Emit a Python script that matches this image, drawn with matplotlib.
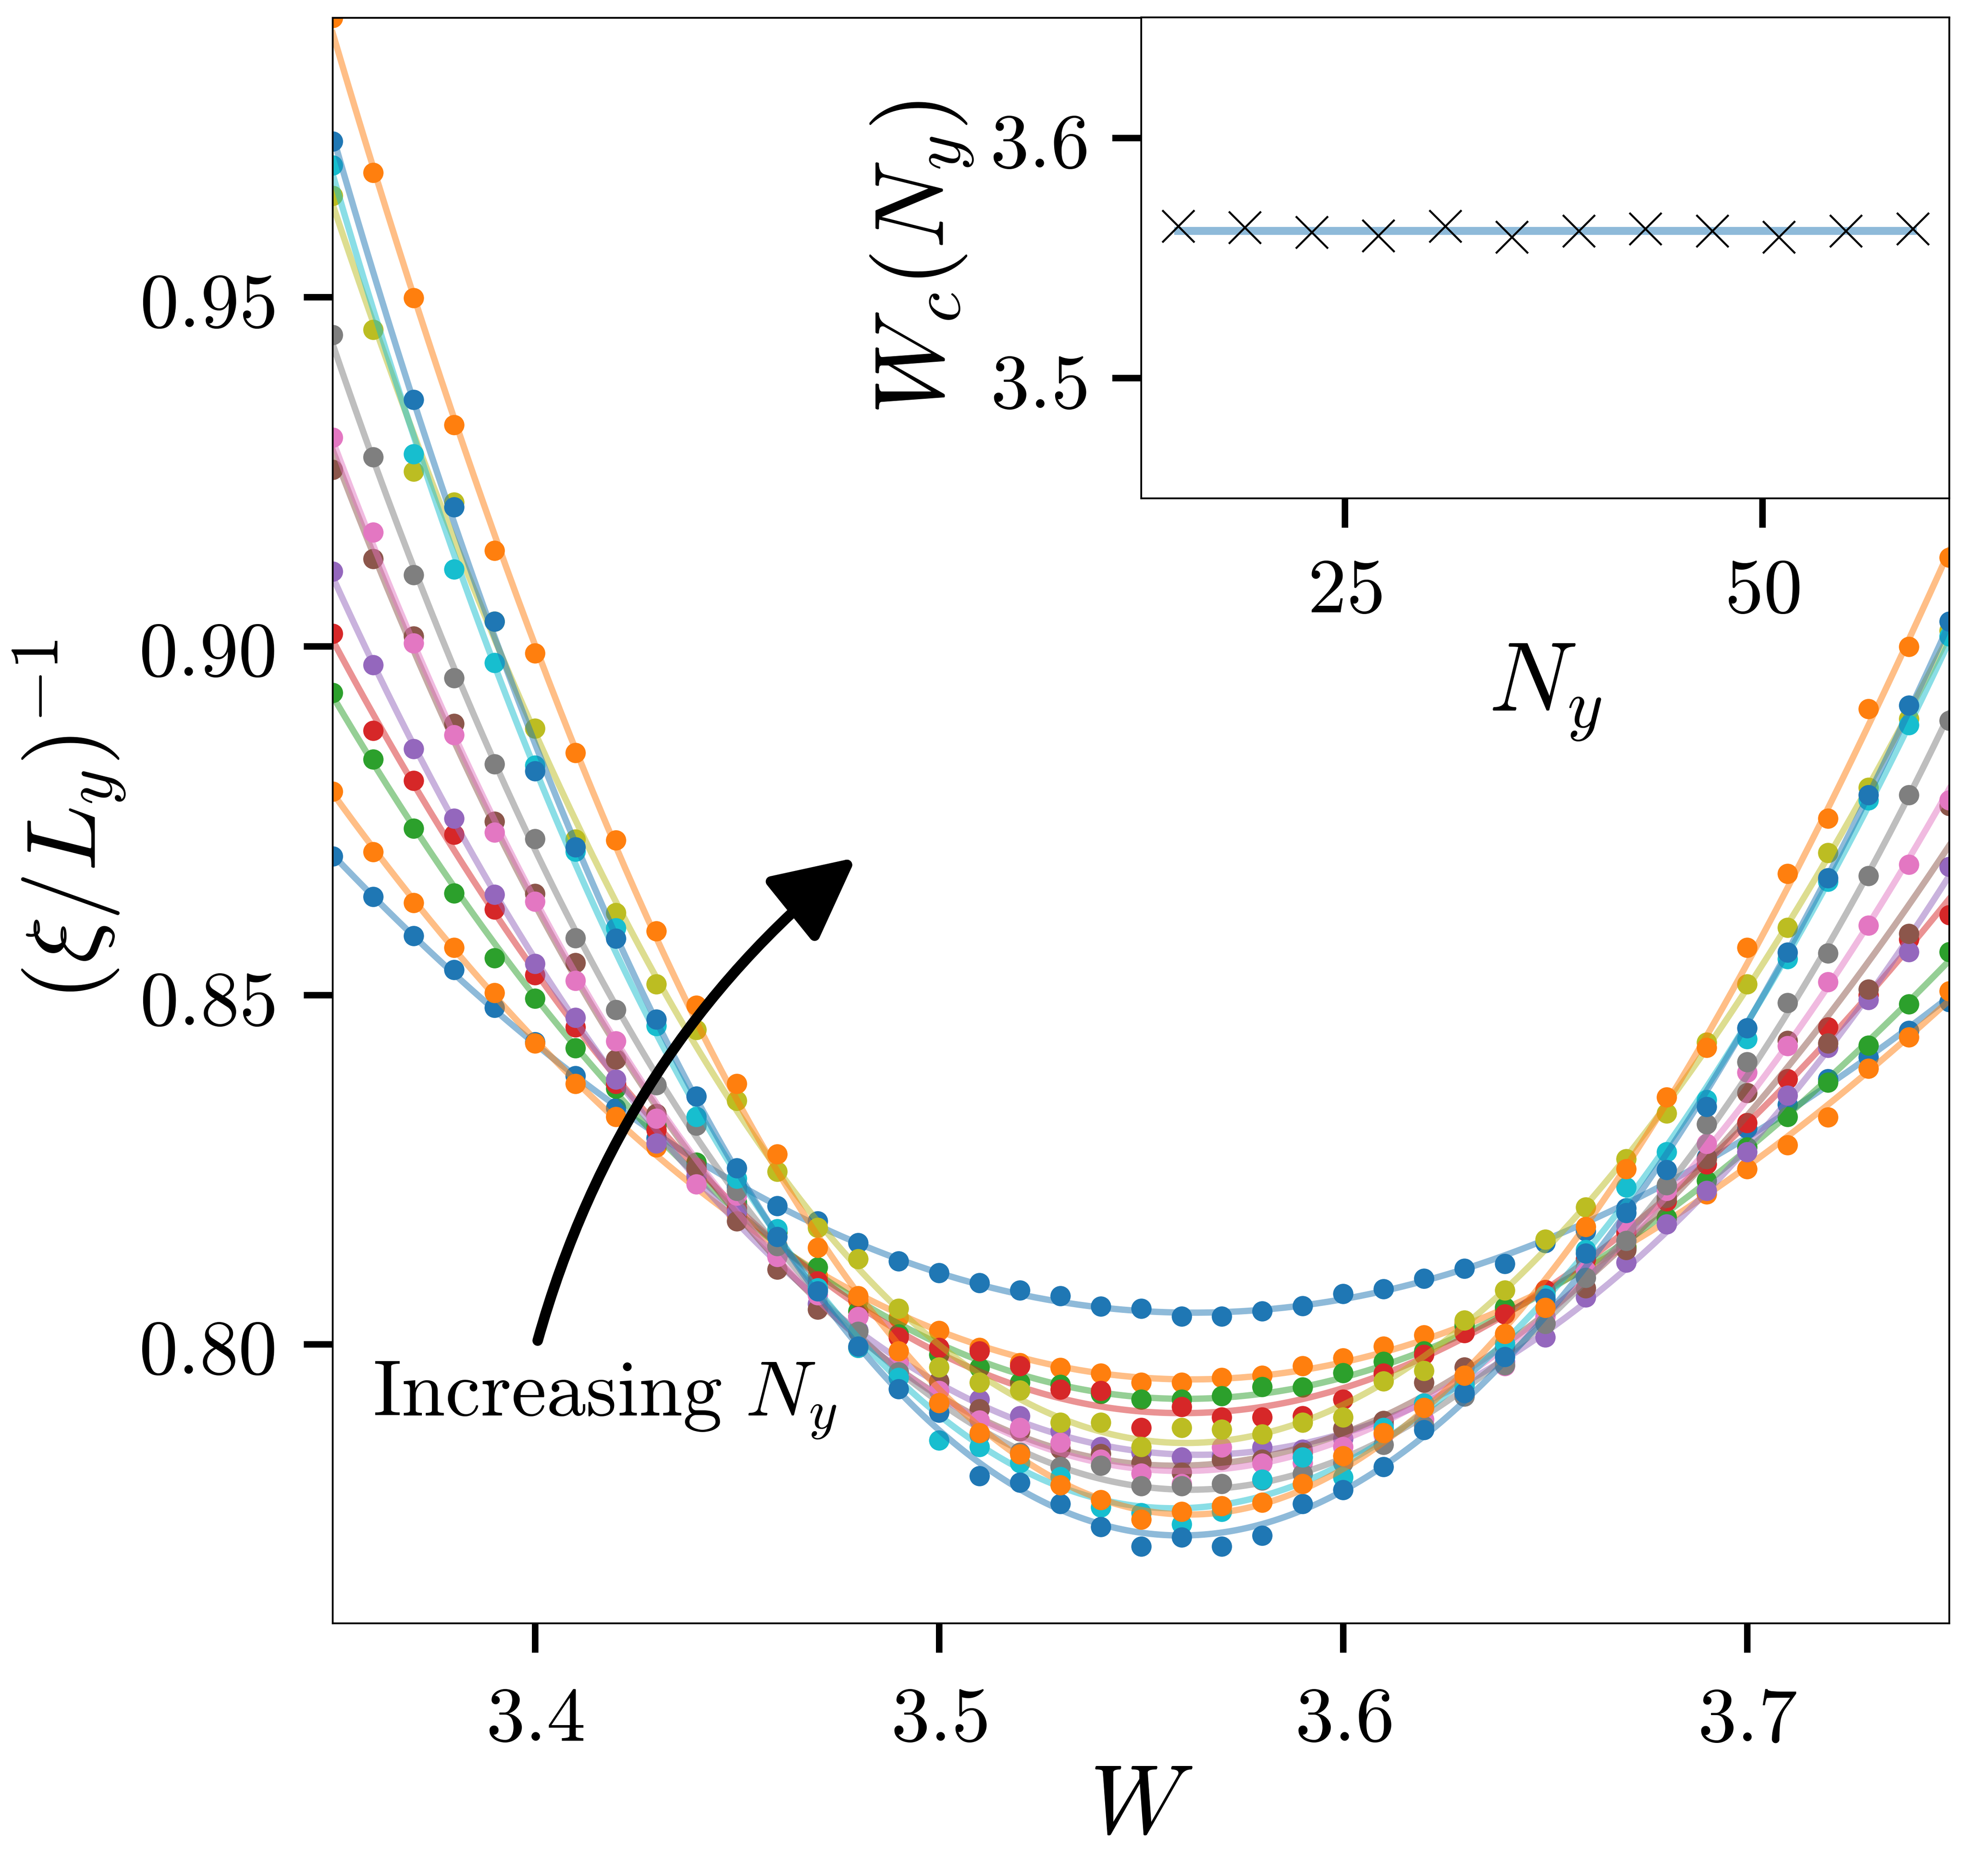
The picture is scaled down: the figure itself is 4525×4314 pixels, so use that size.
import numpy as np
import matplotlib
matplotlib.use("Agg")
import matplotlib.pyplot as plt

plt.rcParams["mathtext.fontset"] = "cm"
plt.rcParams["font.family"] = "serif"
plt.rcParams["axes.linewidth"] = 0.5

# disorder strength grid
W = [3.35, 3.36, 3.37, 3.38, 3.39, 3.40, 3.41, 3.42, 3.43, 3.44, 3.45,
     3.46, 3.47, 3.48, 3.49, 3.50, 3.51, 3.52, 3.53, 3.54, 3.55, 3.56,
     3.57, 3.58, 3.59, 3.60, 3.61, 3.62, 3.63, 3.64, 3.65, 3.66, 3.67,
     3.68, 3.69, 3.70, 3.71, 3.72, 3.73, 3.74, 3.75]

# (xi / L_y)^-1 for each N_y (nan = no point)
nan = np.nan
curve_15 = [0.8699, 0.8641, 0.8585, 0.8536, 0.8482, 0.8433, 0.8384, 0.8338, 0.8295, 0.8258, 0.8225,
            0.8198, 0.8176, 0.8145, 0.8119, 0.8102, 0.8088, 0.8077, 0.8069, 0.8054, 0.8051, 0.8040,
            0.8040, 0.8047, 0.8055, 0.8072, 0.8079, 0.8094, 0.8108, 0.8115, 0.8145, 0.8162, 0.8195,
            0.8225, 0.8268, 0.8309, 0.8343, 0.8380, 0.8411, 0.8449, 0.8490]
curve_19 = [0.8792, 0.8705, 0.8632, 0.8568, 0.8503, 0.8431, 0.8373, 0.8326, 0.8282, 0.8238, 0.8185,
            0.8140, 0.8098, 0.8063, 0.8038, 0.8019, 0.7995, 0.7973, 0.7966, 0.7958, 0.7945, 0.7945,
            0.7952, 0.7955, 0.7969, 0.7980, 0.7997, 0.8013, 0.8030, 0.8050, 0.8078, 0.8110, 0.8140,
            0.8180, 0.8215, 0.8251, 0.8285, 0.8325, 0.8395, 0.8440, 0.8506]
curve_23 = [0.8933, 0.8838, 0.8739, 0.8646, 0.8553, 0.8495, 0.8424, 0.8366, 0.8313, 0.8260, 0.8203,
            0.8160, 0.8110, 0.8047, 0.8014, 0.7985, 0.7966, 0.7945, 0.7942, 0.7929, 0.7921, 0.7921,
            0.7926, 0.7939, 0.7938, 0.7959, 0.7975, 0.7990, 0.8026, 0.8053, 0.8075, 0.8105, 0.8138,
            0.8181, 0.8234, 0.8282, 0.8326, 0.8375, 0.8428, 0.8487, 0.8562]
curve_27 = [0.9018, 0.8879, 0.8807, 0.8730, 0.8623, 0.8529, 0.8454, 0.8373, 0.8307, 0.8250, 0.8195,
            0.8140, 0.8090, 0.8040, 0.8010, 0.7995, 0.7990, 0.7969, 0.7935, 0.7933, 0.7880, 0.7910,
            0.7895, 0.7895, 0.7897, 0.7921, 0.7958, 0.7985, 0.8016, 0.8043, 0.8078, 0.8122, 0.8160,
            0.8205, 0.8258, 0.8317, 0.8380, 0.8454, 0.8500, 0.8580, 0.8615]
curve_31 = [0.9107, 0.8973, 0.8853, 0.8753, 0.8644, 0.8545, 0.8468, 0.8379, 0.8288, 0.8241, 0.8189,
            0.8127, 0.8058, 0.8020, 0.7975, 0.7945, 0.7921, 0.7897, 0.7875, 0.7853, 0.7845, 0.7838,
            0.7840, 0.7852, 0.7849, 0.7865, 0.7885, 0.7915, 0.7945, 0.7975, 0.8010, 0.8067, 0.8117,
            0.8172, 0.8220, 0.8275, 0.8356, 0.8425, 0.8493, 0.8562, 0.8684]
curve_35 = [0.9253, 0.9125, 0.9014, 0.8889, 0.8749, 0.8645, 0.8546, 0.8408, 0.8330, 0.8253, 0.8176,
            0.8107, 0.8050, 0.7995, 0.7960, 0.7947, 0.7907, 0.7875, 0.7850, 0.7843, 0.7830, 0.7816,
            0.7834, 0.7835, 0.7845, 0.7879, 0.7890, 0.7945, 0.7967, 0.7995, 0.8030, 0.8080, 0.8135,
            0.8210, 0.8265, 0.8360, 0.8435, 0.8431, 0.8508, 0.8588, 0.8771]
curve_39 = [0.9299, 0.9163, 0.9004, 0.8873, 0.8733, 0.8634, 0.8521, 0.8434, 0.8323, 0.8229, 0.8213,
            0.8125, 0.8070, 0.8039, 0.7975, 0.7933, 0.7891, 0.7880, 0.7859, 0.7835, 0.7815, 0.7800,
            0.7852, 0.7829, 0.7830, 0.7853, 0.7870, 0.7892, 0.7928, 0.7969, 0.8040, 0.8106, 0.8170,
            0.8220, 0.8287, 0.8389, 0.8427, 0.8519, 0.8600, 0.8687, 0.8779]
curve_43 = [0.9446, 0.9271, 0.9102, 0.8954, 0.8831, 0.8724, 0.8582, 0.8479, 0.8371, 0.8313, 0.8220,
            0.8141, 0.8080, 0.8018, 0.7960, 0.7915, 0.7870, 0.7845, 0.7824, 0.7826, 0.7797, 0.7797,
            0.7800, 0.7805, 0.7814, 0.7830, 0.7856, 0.7883, 0.7925, 0.7970, 0.8029, 0.8095, 0.8148,
            0.8228, 0.8315, 0.8404, 0.8489, 0.8560, 0.8671, 0.8787, 0.8893]
curve_47 = [0.9645, 0.9453, 0.9250, 0.9206, 0.9035, 0.8882, 0.8723, 0.8618, 0.8516, 0.8450, 0.8349,
            0.8247, 0.8167, 0.8122, 0.8051, 0.7967, 0.7945, 0.7934, 0.7888, 0.7888, 0.7853, 0.7880,
            0.7878, 0.7871, 0.7888, 0.7895, 0.7947, 0.7962, 0.8034, 0.8077, 0.8150, 0.8196, 0.8265,
            0.8331, 0.8432, 0.8516, 0.8597, 0.8704, 0.8797, 0.8896, 0.9022]
curve_51 = [0.9689, nan, 0.9275, 0.9110, 0.8976, 0.8829, 0.8706, 0.8596, 0.8456, 0.8326, 0.8237,
            0.8165, 0.8080, 0.7995, 0.7952, 0.7862, 0.7853, 0.7830, 0.7810, 0.7766, 0.7758, 0.7742,
            0.7760, 0.7806, 0.7838, 0.7809, 0.7880, 0.7915, 0.7941, 0.8001, 0.8070, 0.8135, 0.8225,
            0.8275, 0.8350, 0.8437, 0.8552, 0.8663, 0.8779, 0.8887, 0.9014]
curve_55 = [0.9723, nan, 0.9353, 0.9199, 0.9035, 0.8821, 0.8712, 0.8581, 0.8465, 0.8355, 0.8252,
            0.8154, 0.8076, 0.7997, 0.7936, 0.7902, 0.7811, 0.7802, 0.7771, 0.7738, 0.7710, 0.7723,
            0.7710, 0.7726, 0.7771, 0.7791, 0.7824, 0.7877, 0.7930, 0.7982, 0.8065, 0.8130, 0.8188,
            0.8250, 0.8340, 0.8453, 0.8561, 0.8668, 0.8787, 0.8915, 0.9035]
curve_59 = [0.9900, 0.9678, 0.9499, 0.9317, 0.9137, 0.8990, 0.8847, 0.8722, 0.8592, 0.8485, 0.8373,
            0.8272, 0.8138, 0.8069, 0.7990, 0.7916, 0.7873, 0.7842, 0.7798, 0.7777, 0.7749, 0.7760,
            0.7768, 0.7773, 0.7800, 0.7840, 0.7873, 0.7909, 0.7955, 0.8015, 0.8052, 0.8168, 0.8251,
            0.8354, 0.8425, 0.8568, 0.8674, 0.8753, 0.8910, 0.8999, 0.9127]

# inset: crossing point per N_y
Ny = [15, 19, 23, 27, 31, 35, 39, 43, 47, 51, 55, 59]
Wc = [3.5632, 3.5626, 3.5606, 3.5592, 3.5632, 3.5586, 3.5612, 3.5622, 3.5612, 3.5586, 3.5612, 3.5622]

x_ticks = [3.4, 3.5, 3.6, 3.7]
x_ticklabels = ["$3.4$", "$3.5$", "$3.6$", "$3.7$"]
y_ticks = [0.80, 0.85, 0.90, 0.95]
y_ticklabels = ["$0.80$", "$0.85$", "$0.90$", "$0.95$"]
in_x_ticks = [25, 50]
in_x_ticklabels = ["$25$", "$50$"]
in_y_ticks = [3.5, 3.6]
in_y_ticklabels = ["$3.5$", "$3.6$"]

curves = [curve_15, curve_19, curve_23, curve_27, curve_31, curve_35,
          curve_39, curve_43, curve_47, curve_51, curve_55, curve_59]

DPI = 600
fig = plt.figure(figsize=(4525 / DPI, 4314 / DPI), dpi=DPI)
ax = fig.add_axes([0.1691, 0.1347, 0.8214, 0.8558])

W_arr = np.array(W)
W_fine = np.linspace(W_arr.min(), W_arr.max(), 300)
for i, vals in enumerate(curves):
    y = np.array(vals, dtype=float)
    ok = ~np.isnan(y)
    coef = np.polyfit(W_arr[ok], y[ok], 4)
    c = f"C{i % 10}"
    ax.plot(W_fine, np.polyval(coef, W_fine), color=c, alpha=0.5, lw=1.75)
    ax.plot(W_arr[ok], y[ok], "o", color=c, ms=5.6, mew=0)

ax.set_xlim(3.35, 3.75)
ax.set_ylim(0.76, 0.99)
ax.set_xticks(x_ticks, labels=x_ticklabels)
ax.set_yticks(y_ticks, labels=y_ticklabels)
ax.tick_params(length=8, width=1.8, pad=8, labelsize=21.5)
ax.set_xlabel("$W$", fontsize=27, labelpad=0.5)
ax.set_ylabel(r"$(\xi/L_y)^{-1}$", fontsize=27, labelpad=3)

# arrow + note
ax.annotate("", xy=(3.4795, 0.8697), xytext=(3.4007, 0.8005),
            arrowprops=dict(arrowstyle="-|>", color="k", lw=2.9, mutation_scale=48,
                            shrinkA=0, shrinkB=0, connectionstyle="arc3,rad=-0.16"))
ax.text(3.3599, 0.7898, r"$\mathrm{Increasing}\ N_y$", fontsize=21.8,
        ha="left", va="baseline")

# inset
axin = fig.add_axes([0.5799, 0.7344, 0.4106, 0.2563])
axin.plot(Ny, np.full(len(Ny), np.mean(Wc)), color="C0", alpha=0.5, lw=2.2)
axin.plot(Ny, Wc, "x", color="k", ms=8.8, mew=0.55)
axin.set_ylim(3.45, 3.65)
axin.set_xticks(in_x_ticks, labels=in_x_ticklabels)
axin.set_yticks(in_y_ticks, labels=in_y_ticklabels)
axin.tick_params(length=8, width=1.8, pad=7, labelsize=21.5)
axin.set_xlabel("$N_y$", fontsize=27, labelpad=4)
axin.set_ylabel("$W_c(N_y)$", fontsize=27, labelpad=4)

fig.savefig("out.png", dpi=DPI)
plt.close(fig)
